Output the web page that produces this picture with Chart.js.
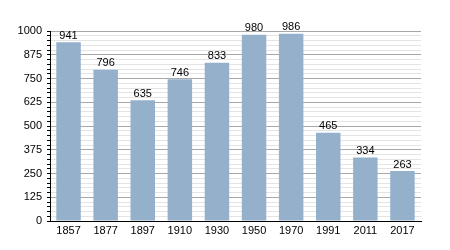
<!DOCTYPE html>
<html>
<head>
<meta charset="utf-8">
<script src="https://cdn.jsdelivr.net/npm/chart.js@4.4.1/dist/chart.umd.min.js"></script>
<style>
  body { margin: 0; background: #fff; }
  canvas { display: block; }
</style>
</head>
<body>
<canvas id="chart-population" width="450" height="250"></canvas>
<script>
const years = ["1857", "1877", "1897", "1910", "1930", "1950", "1970", "1991", "2011", "2017"];
const population = [941, 796, 635, 746, 833, 980, 986, 465, 334, 263];
const yMax = 1000;
const yStep = 25;
const yLabelStep = 125;

// value labels above each bar
const barLabels = {
  id: "barLabels",
  afterDatasetsDraw(chart) {
    const ctx = chart.ctx;
    const meta = chart.getDatasetMeta(0);
    ctx.save();
    ctx.font = "11px 'Liberation Sans', Arial, sans-serif";
    ctx.fillStyle = "#000";
    ctx.textAlign = "center";
    ctx.textBaseline = "bottom";
    meta.data.forEach((bar, i) => {
      ctx.fillText(population[i], bar.x, bar.y - 1);
    });
    ctx.restore();
  },
};

new Chart(document.getElementById("chart-population"), {
  type: "bar",
  data: {
    labels: years,
    datasets: [
      {
        data: population,
        backgroundColor: "#95b0cb",
        borderWidth: 0,
        barPercentage: 0.66,
        categoryPercentage: 1,
      },
    ],
  },
  options: {
    responsive: false,
    animation: false,
    layout: { padding: { top: 31, right: 29, left: 0, bottom: 0 } },
    plugins: {
      legend: { display: false },
      tooltip: { enabled: false },
    },
    scales: {
      x: {
        grid: { display: false, drawTicks: false },
        border: { display: true, color: "#000", width: 1 },
        ticks: {
          color: "#000",
          font: { family: "'Liberation Sans', Arial, sans-serif", size: 11 },
          maxRotation: 0,
          padding: 3,
        },
        afterFit(scale) {
          scale.height = 29;
        },
      },
      y: {
        min: 0,
        max: yMax,
        ticks: {
          stepSize: yStep,
          autoSkip: false,
          color: "#000",
          font: { family: "'Liberation Sans', Arial, sans-serif", size: 11 },
          padding: 5,
          callback: (v) => (v % yLabelStep === 0 ? v : ""),
        },
        grid: {
          color: (c) => (c.tick.value % yLabelStep === 0 ? "#a8a8a8" : "#e4e4e4"),
          tickColor: "#000",
          tickLength: 3,
          lineWidth: 1,
        },
        border: { display: true, color: "#000", width: 1 },
        afterFit(scale) {
          scale.width = 50;
        },
      },
    },
  },
  plugins: [barLabels],
});
</script>
</body>
</html>
